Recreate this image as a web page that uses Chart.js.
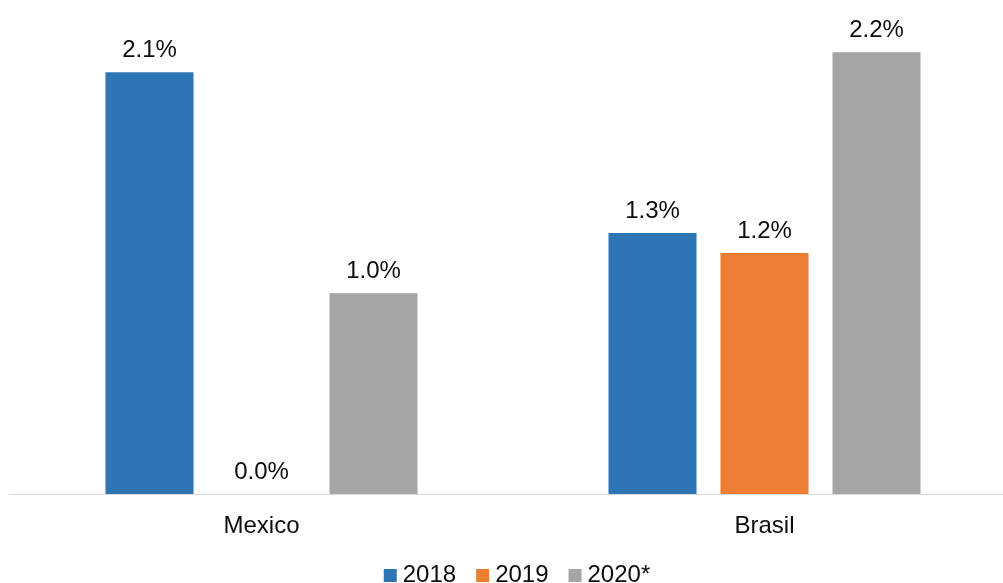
<!DOCTYPE html>
<html>
<head>
<meta charset="utf-8">
<script src="https://cdn.jsdelivr.net/npm/chart.js@4"></script>
<style>
  html, body { margin: 0; padding: 0; background: #fff; overflow: hidden; }
  #wrap { width: 1016px; height: 583px; }
</style>
</head>
<body>
<div id="wrap"><canvas id="chart" width="1016" height="583"></canvas></div>
<script>
const categories = ['Mexico', 'Brasil'];
const seriesLabels = ['2018', '2019', '2020*'];
const values2018 = [2.1, 1.3];
const values2019 = [0.0, 1.2];
const values2020 = [1.0, 2.2];

const COLOR_1 = '#2E75B6';
const COLOR_2 = '#ED7D31';
const COLOR_3 = '#A5A5A5';
const TEXT = '#0d0d0d';
const FONT = '"Liberation Sans", Arial, sans-serif';

// value labels above each bar
const valueLabels = {
  id: 'valueLabels',
  afterDatasetsDraw(chart) {
    const ctx = chart.ctx;
    ctx.save();
    ctx.font = '24px ' + FONT;
    ctx.fillStyle = TEXT;
    ctx.textAlign = 'center';
    ctx.textBaseline = 'alphabetic';
    chart.data.datasets.forEach((ds, i) => {
      chart.getDatasetMeta(i).data.forEach((bar, j) => {
        ctx.fillText(ds.data[j].toFixed(1) + '%', bar.x, bar.y - 15);
      });
    });
    ctx.restore();
  },
};

// legend row at the bottom, square markers
const bottomLegend = {
  id: 'bottomLegend',
  afterDraw(chart) {
    const ctx = chart.ctx;
    const box = 13, gap = 6, spacing = 20, baseline = 582, center = 517;
    ctx.save();
    ctx.font = '24px ' + FONT;
    ctx.textBaseline = 'alphabetic';
    ctx.textAlign = 'left';
    const items = chart.data.datasets.map(ds => ({
      text: ds.label,
      color: ds.backgroundColor,
      w: box + gap + ctx.measureText(ds.label).width,
    }));
    const total = items.reduce((s, it) => s + it.w, 0) + spacing * (items.length - 1);
    let x = center - total / 2;
    items.forEach(it => {
      ctx.fillStyle = it.color;
      ctx.fillRect(x, baseline - box, box, box);
      ctx.fillStyle = TEXT;
      ctx.fillText(it.text, x + box + gap, baseline);
      x += it.w + spacing;
    });
    ctx.restore();
  },
};

new Chart(document.getElementById('chart'), {
  type: 'bar',
  data: {
    labels: categories,
    datasets: [
      { label: seriesLabels[0], data: values2018, backgroundColor: COLOR_1 },
      { label: seriesLabels[1], data: values2019, backgroundColor: COLOR_2 },
      { label: seriesLabels[2], data: values2020, backgroundColor: COLOR_3 },
    ],
  },
  options: {
    responsive: false,
    animation: false,
    devicePixelRatio: 1,
    layout: { padding: { left: 10, top: 12, right: 0, bottom: 0 } },
    datasets: {
      bar: { barPercentage: 0.786, categoryPercentage: 0.668 },
    },
    plugins: {
      legend: { display: false },
      tooltip: { enabled: false },
    },
    scales: {
      y: { display: false, min: 0, max: 2.4 },
      x: {
        grid: { display: false, drawTicks: false },
        border: { display: true, color: '#D9D9D9', width: 1 },
        ticks: { color: TEXT, font: { family: FONT, size: 24 }, padding: 18 },
        afterFit(scale) { scale.height = 89; },
      },
    },
  },
  plugins: [valueLabels, bottomLegend],
});
</script>
</body>
</html>
